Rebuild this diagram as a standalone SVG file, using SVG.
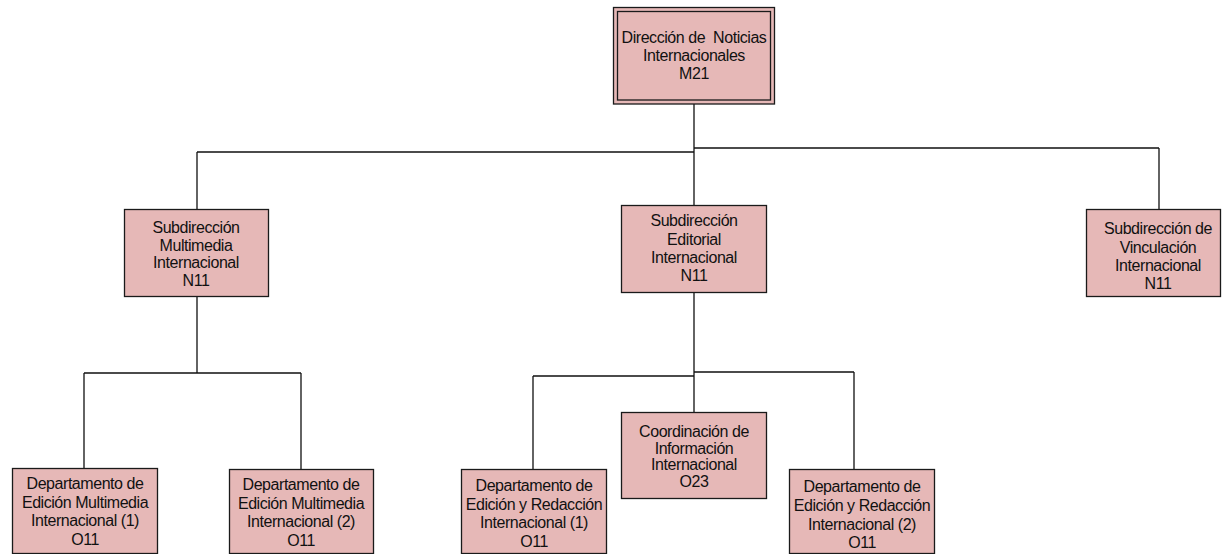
<svg xmlns="http://www.w3.org/2000/svg" width="1222" height="554" viewBox="0 0 1222 554">
<style>
.box{fill:#E6B8B7;stroke:#1a1a1a;stroke-width:1.3}
.dbl{fill:none;stroke:#1a1a1a;stroke-width:1.3}
.lbl{font-family:"Liberation Sans",Arial,sans-serif;font-size:16px;letter-spacing:-0.45px;fill:#111;text-anchor:middle}
.con{fill:none;stroke:#111;stroke-width:1.3}
</style>
<rect width="1222" height="554" fill="#fff"/>
<g id="connectors">
<path class="con" d="M694 104V205M197 152H694M694 148H1159M197 152V209M1159 148V209"/>
<path class="con" d="M197 296V373M84 373H301M84 373V468M301 373V469"/>
<path class="con" d="M694 292V412M533 376H694M694 372H854M533 376V469M854 372V469"/>
</g>
<g id="n-direccion">
<rect class="box" x="613.5" y="7.5" width="161" height="96.5"/>
<rect class="dbl" x="617.5" y="11.5" width="153" height="88.5"/>
<text class="lbl" xml:space="preserve"><tspan x="694" y="43">Dirección de  Noticias</tspan><tspan x="694" y="61">Internacionales</tspan><tspan x="694" y="79">M21</tspan></text>
</g>
<g id="n-sub-multimedia">
<rect class="box" x="124.5" y="209.5" width="144" height="87"/>
<text class="lbl"><tspan x="196" y="233">Subdirección</tspan><tspan x="196" y="250.5">Multimedia</tspan><tspan x="196" y="268">Internacional</tspan><tspan x="196" y="285.5">N11</tspan></text>
</g>
<g id="n-sub-editorial">
<rect class="box" x="621.5" y="205.5" width="145" height="87"/>
<text class="lbl"><tspan x="694" y="226">Subdirección</tspan><tspan x="694" y="244.5">Editorial</tspan><tspan x="694" y="263">Internacional</tspan><tspan x="694" y="281">N11</tspan></text>
</g>
<g id="n-sub-vinculacion">
<rect class="box" x="1086.5" y="209.5" width="134" height="87"/>
<text class="lbl"><tspan x="1158" y="234">Subdirección de</tspan><tspan x="1158" y="252.5">Vinculación</tspan><tspan x="1158" y="271">Internacional</tspan><tspan x="1158" y="289">N11</tspan></text>
</g>
<g id="n-dep-multimedia-1">
<rect class="box" x="12.5" y="468.5" width="145" height="85"/>
<text class="lbl"><tspan x="85" y="489">Departamento de</tspan><tspan x="85" y="507.5">Edición Multimedia</tspan><tspan x="85" y="526">Internacional (1)</tspan><tspan x="85" y="545">O11</tspan></text>
</g>
<g id="n-dep-multimedia-2">
<rect class="box" x="229.5" y="469.5" width="144" height="84"/>
<text class="lbl"><tspan x="301" y="490">Departamento de</tspan><tspan x="301" y="508.5">Edición Multimedia</tspan><tspan x="301" y="527">Internacional (2)</tspan><tspan x="301" y="546">O11</tspan></text>
</g>
<g id="n-dep-redaccion-1">
<rect class="box" x="461.5" y="469.5" width="145" height="84"/>
<text class="lbl"><tspan x="534" y="491">Departamento de</tspan><tspan x="534" y="510">Edición y Redacción</tspan><tspan x="534" y="528">Internacional (1)</tspan><tspan x="534" y="546.5">O11</tspan></text>
</g>
<g id="n-coordinacion">
<rect class="box" x="621.5" y="412.5" width="145" height="86"/>
<text class="lbl"><tspan x="694" y="437">Coordinación de</tspan><tspan x="694" y="453.5">Información</tspan><tspan x="694" y="470">Internacional</tspan><tspan x="694" y="486.5">O23</tspan></text>
</g>
<g id="n-dep-redaccion-2">
<rect class="box" x="789.5" y="469.5" width="145" height="84"/>
<text class="lbl"><tspan x="862" y="492">Departamento de</tspan><tspan x="862" y="511">Edición y Redacción</tspan><tspan x="862" y="529.5">Internacional (2)</tspan><tspan x="862" y="547.5">O11</tspan></text>
</g>
</svg>
